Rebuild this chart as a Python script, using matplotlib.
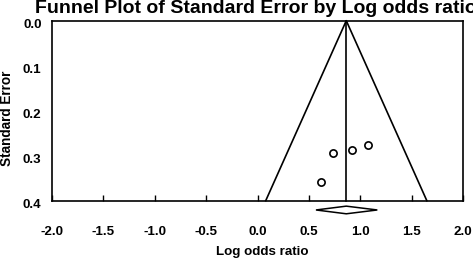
import matplotlib
matplotlib.use("Agg")
import matplotlib.pyplot as plt
from matplotlib.patches import Polygon
from matplotlib.transforms import ScaledTranslation
import numpy as np

plt.rcParams['font.family'] = ['Liberation Sans', 'DejaVu Sans']
plt.rcParams['font.weight'] = 'bold'

# Data
log_odds = [0.615, 0.735, 0.917, 1.073]
std_err = [0.358, 0.294, 0.288, 0.276]
summary_est = 0.864
summary_lo = 0.569
summary_hi = 1.166
se_max = 0.4
xticks = [-2.0, -1.5, -1.0, -0.5, 0.0, 0.5, 1.0, 1.5, 2.0]
yticks = [0.0, 0.1, 0.2, 0.3, 0.4]

fig = plt.figure(figsize=(4.73, 2.59), dpi=100)
ax = fig.add_axes([52/473, 1-200.7/259, 411/473, 180/259])

ax.set_xlim(-2.0, 2.0)
ax.set_ylim(0.4, 0.0)

# funnel
z = 1.96
ax.plot([summary_est - z*se_max, summary_est, summary_est + z*se_max],
        [se_max, 0.0, se_max], color='black', lw=1.2, clip_on=False)
ax.plot([summary_est, summary_est], [0.0, se_max], color='black', lw=1.2, clip_on=False)

ax.plot(log_odds, std_err, linestyle='none', marker='o', markersize=5.2,
        markerfacecolor='white', markeredgecolor='black', markeredgewidth=1.2)

# summary diamond below axis
yd = 0.4206
h = 0.0085
diamond = Polygon([[summary_lo, yd], [summary_est, yd - h], [summary_hi, yd], [summary_est, yd + h]],
                  closed=True, facecolor='white', edgecolor='black', lw=1.1, clip_on=False)
ax.add_patch(diamond)

for s in ax.spines.values():
    s.set_linewidth(1.2)

ax.set_xticks(xticks)
ax.set_xticklabels([f"{v:.1f}" for v in xticks])
ax.set_yticks(yticks)
ax.set_yticklabels([f"{v:.1f}" for v in yticks])
ax.tick_params(axis='x', direction='in', length=4, width=1.0, pad=18, labelsize=9.6)
ax.tick_params(axis='y', length=0, pad=7.5, labelsize=9.6)
for lab in ax.get_yticklabels():
    lab.set_transform(lab.get_transform() + ScaledTranslation(0, -2.5/100, fig.dpi_scale_trans))

ax.set_xlabel("Log odds ratio", fontsize=9.6, fontweight='bold')
ax.xaxis.set_label_coords((262.5-52)/411, (200.7-255.3)/180)
ax.xaxis.label.set_va('baseline')
ax.set_ylabel("Standard Error", fontsize=9.8, fontweight='bold')
ax.yaxis.set_label_coords((7-52)/411, 1-(118.5-20.7)/180)
ax.yaxis.label.set_va('center')

fig.text(35/473, 1-13.4/259, "Funnel Plot of Standard Error by Log odds ratio",
         fontsize=14.0, fontweight='bold', ha='left', va='baseline')

fig.savefig("out.png", dpi=100)
